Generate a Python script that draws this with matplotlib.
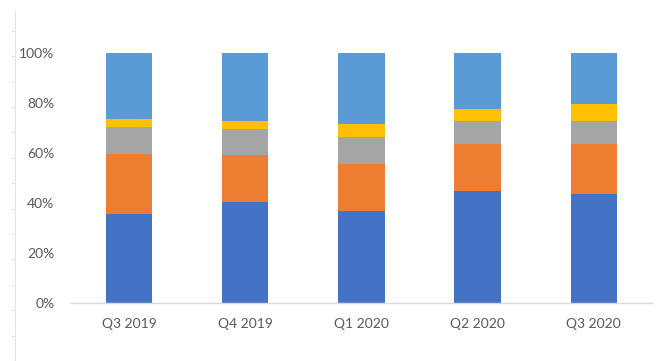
import matplotlib.pyplot as plt
import matplotlib as mtpl
from matplotlib.ticker import PercentFormatter, MultipleLocator
import numpy as np

# Excel-style office palette: dark blue, orange, gray, gold, light blue
palette = ["#4472C4", "#ED7D31", "#A5A5A5", "#FFC000", "#5B9BD5"]

quarters = ["Q3 2019", "Q4 2019", "Q1 2020", "Q2 2020", "Q3 2020"]

# share of each segment per quarter (percent, bottom to top)
seg_1 = [35.5, 40.4, 36.7, 44.6, 43.4]
seg_2 = [23.9, 18.8, 18.9, 18.9, 20.2]
seg_3 = [10.8, 10.2, 10.9, 9.1, 9.0]
seg_4 = [3.4, 3.5, 5.1, 5.1, 7.0]
seg_5 = [26.4, 27.1, 28.4, 22.3, 20.4]

mtpl.rcParams['font.family'] = ['Lato', 'DejaVu Sans']
mtpl.rcParams['font.size'] = 10

fig = plt.figure(figsize=(6.6, 3.61), dpi=100)
ax = fig.add_axes([0.1076, 0.1607, 0.880, 0.693])

x = np.arange(len(quarters))
bottom = np.zeros(len(quarters))
for i, seg in enumerate([seg_1, seg_2, seg_3, seg_4, seg_5]):
    vals = np.array(seg) / 100
    ax.bar(x, vals, width=0.4, bottom=bottom, color=palette[i], linewidth=0)
    bottom += vals

ax.set_xlim(-0.5, len(quarters) - 0.5)
ax.set_ylim(0, 1)
ax.yaxis.set_major_locator(MultipleLocator(0.2))
ax.yaxis.set_major_formatter(PercentFormatter(1.0, decimals=0))
ax.set_xticks(x)
ax.set_xticklabels(quarters)

for side in ['top', 'right', 'left']:
    ax.spines[side].set_visible(False)
ax.spines['bottom'].set_color('#D9D9D9')
ax.spines['bottom'].set_linewidth(1)
ax.tick_params(axis='both', length=0, colors='#595959', labelsize=10)
ax.tick_params(axis='y', pad=12)
ax.tick_params(axis='x', pad=11)

# faint border line with ticks along the left edge
edge = fig.add_axes([0.0227, 0.0, 0.001, 0.97])
edge.set_ylim(0, 0.97 * 361)
edge.yaxis.set_major_locator(MultipleLocator(25.4))
edge.set_yticklabels([])
edge.set_xticks([])
for side in ['top', 'right', 'bottom']:
    edge.spines[side].set_visible(False)
edge.spines['left'].set_color('#E3E3E3')
edge.tick_params(axis='y', length=3, color='#E3E3E3', labelleft=False)
edge.patch.set_alpha(0)

plt.savefig('out.png', dpi=100)
plt.close()
